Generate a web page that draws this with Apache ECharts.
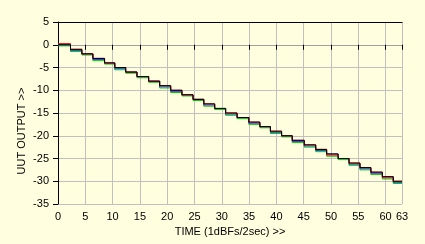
<!DOCTYPE html>
<html>
<head>
<meta charset="utf-8">
<script src="https://cdn.jsdelivr.net/npm/echarts@6/dist/echarts.min.js"></script>
<style>
html,body{margin:0;padding:0;background:#FFFFE0;}
#c{width:425px;height:244px;}
</style>
</head>
<body>
<div id="c"></div>
<script>
// Times (x) at which each new level begins, plus end of record
const stepTimes = [0, 2.29, 4.37, 6.39, 8.53, 10.4, 12.4, 14.46, 16.6, 18.62, 20.64, 22.7, 24.73, 26.7, 28.7, 30.7, 32.8, 34.95, 36.97, 38.9, 40.95, 42.9, 45.1, 47.2, 49.2, 51.3, 53.3, 55.3, 57.3, 59.4, 61.4];
const endTime = 63;
// Levels (UUT output) for each channel at each step
const blackLevels = [0, -1, -2, -3, -4, -5, -6, -7, -8, -9, -10, -11, -12, -13, -14, -15, -16, -17, -18, -19, -20, -21, -22, -23, -24, -25, -26, -27, -28, -29, -30];
const blueLevels = [0, -1.25, -2, -3.25, -4, -5.25, -6, -7, -8, -9.25, -10.25, -11, -12, -13.25, -14, -15.25, -16, -17.25, -18, -19.25, -20, -21.25, -22.25, -23.25, -24, -25, -26.25, -27.25, -28.25, -29, -30.25];
const redLevels = [0.25, -1, -2, -3, -4, -5, -6, -7, -8, -9, -10, -11, -12, -13, -14, -15, -16, -17, -18, -19, -20, -21, -22, -23, -24.25, -25, -26, -27, -28, -29.25, -30];
const greenLevels = [-0.25, -1.5, -2.25, -3.5, -4.25, -5.5, -6.25, -7.25, -8.25, -9.5, -10.5, -11.25, -12.25, -13.5, -14.25, -15.5, -16.25, -17.5, -18.25, -19.5, -20.25, -21.5, -22.5, -23.5, -24.5, -25.25, -26.5, -27.5, -28.5, -29.5, -30.5];
const xTicks = {min: 0, max: 63, interval: 5};
const yTicks = {min: -35, max: 5, interval: 5};

function pairs(levels) {
  const d = stepTimes.map((t, i) => [t, levels[i]]);
  d.push([endTime, levels[levels.length - 1]]);
  return d;
}
const font = 'Liberation Sans';
const chart = echarts.init(document.getElementById('c'), null, {renderer: 'canvas'});
function mk(name, levels, color) {
  return {
    name: name, type: 'line', step: 'end', data: pairs(levels),
    showSymbol: false, symbol: 'none', animation: false,
    lineStyle: {color: color, width: 1}, xAxisIndex: 0, yAxisIndex: 0
  };
}
chart.setOption({
  backgroundColor: '#FFFFE0',
  animation: false,
  grid: {left: 58, top: 22, width: 344, height: 182, containLabel: false},
  xAxis: [{
    type: 'value', min: xTicks.min, max: xTicks.max, interval: xTicks.interval,
    name: 'TIME (1dBFs/2sec) >>', nameLocation: 'middle', nameGap: 22,
    nameTextStyle: {color: '#000', fontSize: 11, fontFamily: font},
    axisLine: {show: true, lineStyle: {color: '#A0A0A0', width: 1}},
    axisTick: {show: true, length: 5, lineStyle: {color: '#000'}},
    axisLabel: {color: '#000', fontSize: 11, fontFamily: font, margin: 7, showMaxLabel: true, showMinLabel: true, hideOverlap: false},
    splitLine: {show: true, lineStyle: {color: '#C0C0C0', width: 1}}
  }, {
    type: 'value', position: 'top', min: xTicks.min, max: xTicks.max,
    axisLine: {show: true, onZero: false, lineStyle: {color: '#000', width: 1}},
    axisTick: {show: false}, axisLabel: {show: false}, splitLine: {show: false}
  }],
  yAxis: [{
    type: 'value', min: yTicks.min, max: yTicks.max, interval: yTicks.interval,
    axisLine: {show: true, onZero: false, lineStyle: {color: '#000', width: 1}},
    axisTick: {show: true, length: 5, lineStyle: {color: '#000'}},
    axisLabel: {color: '#000', fontSize: 11, fontFamily: font, margin: 9},
    splitLine: {show: true, lineStyle: {color: '#C0C0C0', width: 1}}
  }],
  graphic: [{
    type: 'text', x: 22, y: 131, rotation: Math.PI / 2,
    style: {text: 'UUT OUTPUT >>', fill: '#000', font: '11px "Liberation Sans"', align: 'center', verticalAlign: 'middle'}
  }],
  series: [
    mk('green', greenLevels, '#00CC00'),
    mk('blue', blueLevels, '#2040F0'),
    mk('red', redLevels, '#FF0000'),
    mk('black', blackLevels, '#000000')
  ]
});
</script>
</body>
</html>
